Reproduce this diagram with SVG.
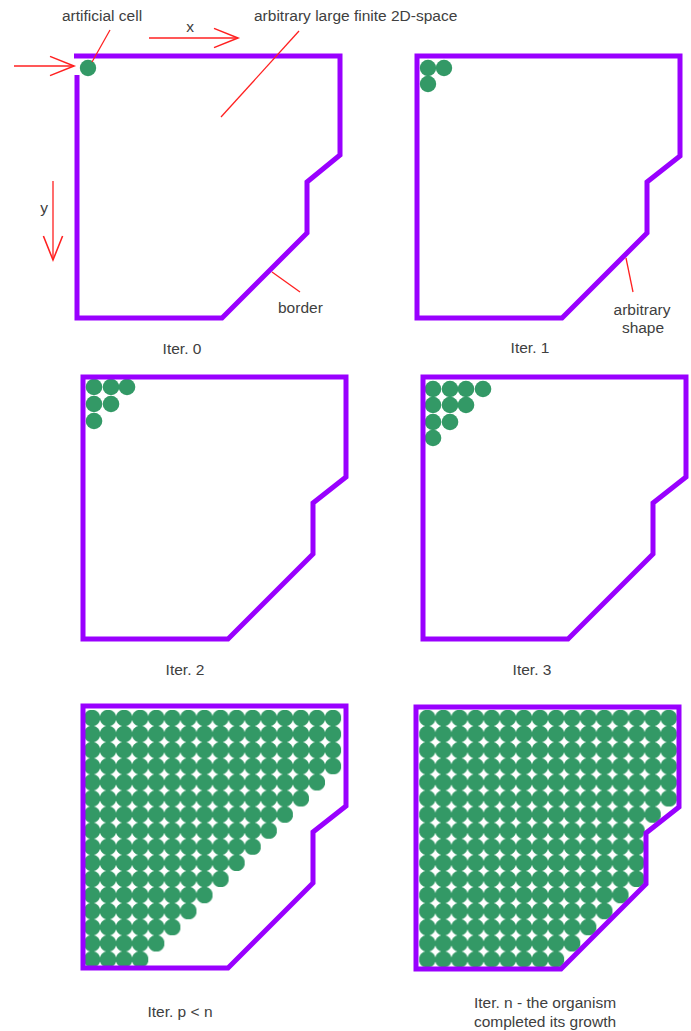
<svg xmlns="http://www.w3.org/2000/svg" width="691" height="1031" viewBox="0 0 691 1031">
<style>
.border{fill:none;stroke:#9900ff;stroke-width:5;stroke-linejoin:miter}
.cell{fill:#339966}
.red{fill:none;stroke:#ff2020;stroke-width:1.3}
.lbl{font-family:"Liberation Sans",Arial,sans-serif;font-size:15.5px;fill:#404040}
.mid{text-anchor:middle}
</style>
<defs>
<path id="shape" d="M0,0 H263 V100 L230,126 V177 L145,262 H0 Z"/>
<marker id="open" markerUnits="userSpaceOnUse" markerWidth="30" markerHeight="24" refX="0" refY="0" viewBox="-22 -10 24 20" orient="auto" overflow="visible">
<path d="M-20,-8 L0,0 L-20,8" fill="none" stroke="#ff2020" stroke-width="1.3"/>
</marker>
<pattern id="p4" patternUnits="userSpaceOnUse" x="83.965" y="709.95" width="16.07" height="16.1">
<circle cx="8.035" cy="8.05" r="8.3" class="cell"/>
</pattern>
<pattern id="p5" patternUnits="userSpaceOnUse" x="419.25" y="709.95" width="16.1" height="16.1">
<circle cx="8.05" cy="8.05" r="8.3" class="cell"/>
</pattern>
</defs>
<rect width="691" height="1031" fill="#ffffff"/>

<g id="iter0">
<circle class="cell" cx="88" cy="68" r="8.2"/>
<path class="border" d="M77,75 V318 H222 L307,233 V182 L340,155 V56 H74"/>
<text class="lbl mid" x="182" y="354">Iter. 0</text>
</g>

<g id="iter1">
<circle class="cell" cx="428" cy="68" r="8.2"/>
<circle class="cell" cx="444" cy="68" r="8.2"/>
<circle class="cell" cx="428" cy="84" r="8.2"/>
<use href="#shape" class="border" transform="translate(417,56)"/>
<text class="lbl mid" x="530" y="353">Iter. 1</text>
</g>

<g id="iter2">
<circle class="cell" cx="94" cy="387" r="8.3"/>
<circle class="cell" cx="111" cy="387" r="8.3"/>
<circle class="cell" cx="127" cy="387" r="8.3"/>
<circle class="cell" cx="94" cy="404" r="8.3"/>
<circle class="cell" cx="111" cy="404" r="8.3"/>
<circle class="cell" cx="94" cy="421" r="8.3"/>
<use href="#shape" class="border" transform="translate(83,377)"/>
<text class="lbl mid" x="185" y="675">Iter. 2</text>
</g>

<g id="iter3">
<circle class="cell" cx="433" cy="389" r="8.3"/>
<circle class="cell" cx="450" cy="389" r="8.3"/>
<circle class="cell" cx="466" cy="389" r="8.3"/>
<circle class="cell" cx="483" cy="389" r="8.3"/>
<circle class="cell" cx="433" cy="405" r="8.3"/>
<circle class="cell" cx="450" cy="405" r="8.3"/>
<circle class="cell" cx="466" cy="405" r="8.3"/>
<circle class="cell" cx="433" cy="422" r="8.3"/>
<circle class="cell" cx="450" cy="422" r="8.3"/>
<circle class="cell" cx="433" cy="438" r="8.3"/>
<use href="#shape" class="border" transform="translate(423,377)"/>
<text class="lbl mid" x="532" y="675">Iter. 3</text>
</g>

<g id="iterp">
<path fill="url(#p4)" d="M83.965,709.95 H341.085 V774.35 H325.015 V790.45 H308.945 V806.55 H292.875 V822.65 H276.805 V838.75 H260.735 V854.85 H244.665 V870.95 H228.595 V887.05 H212.525 V903.15 H196.455 V919.25 H180.385 V935.35 H164.315 V951.45 H148.245 V967.55 H83.965 Z"/>
<use href="#shape" class="border" transform="translate(83,706)"/>
<text class="lbl mid" x="180" y="1017">Iter. p &lt; n</text>
</g>

<g id="itern">
<path fill="url(#p5)" d="M419.25,709.95 H676.85 V806.55 H660.75 V822.65 H644.65 V887.05 H628.55 V903.15 H612.45 V919.25 H596.35 V935.35 H580.25 V951.45 H564.15 V967.55 H419.25 Z"/>
<use href="#shape" class="border" transform="translate(416,707)"/>
<text class="lbl mid" x="545" y="1008">Iter. n - the organism</text>
<text class="lbl mid" x="545" y="1027">completed its growth</text>
</g>

<g id="annotations">
<line class="red" x1="14" y1="66" x2="74" y2="66" marker-end="url(#open)"/>
<line class="red" x1="149" y1="38" x2="238" y2="38" marker-end="url(#open)"/>
<line class="red" x1="53" y1="181" x2="53" y2="260" marker-end="url(#open)"/>
<line class="red" x1="110" y1="30" x2="92" y2="62"/>
<line class="red" x1="299" y1="31" x2="221" y2="117"/>
<line class="red" x1="272" y1="272" x2="300" y2="292"/>
<line class="red" x1="626" y1="258" x2="633" y2="292"/>
<text class="lbl" x="62" y="21">artificial cell</text>
<text class="lbl mid" x="190" y="32">x</text>
<text class="lbl" x="254" y="21">arbitrary large finite 2D-space</text>
<text class="lbl mid" x="44" y="213">y</text>
<text class="lbl" x="278" y="313">border</text>
<text class="lbl mid" x="642" y="315">arbitrary</text>
<text class="lbl mid" x="643" y="333">shape</text>
</g>
</svg>
